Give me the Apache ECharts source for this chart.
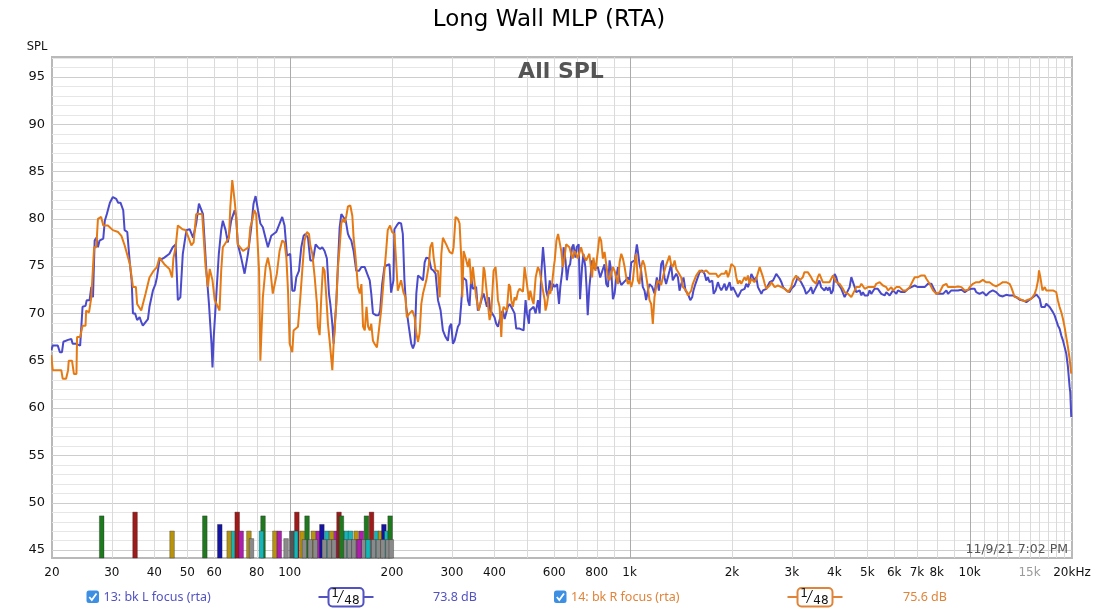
<!DOCTYPE html>
<html>
<head>
<meta charset="utf-8">
<script src="https://cdn.jsdelivr.net/npm/echarts@6/dist/echarts.min.js"></script>
<style>
html,body{margin:0;padding:0;background:#fff;}
#chart{width:1098px;height:613px;}
</style>
</head>
<body>
<div id="chart"></div>
<script>
// ---------------- DATA ----------------
const chartTitle = 'Long Wall MLP (RTA)';
const graphLabel = 'All SPL';
const yAxisName = 'SPL';
const timestamp = '11/9/21 7:02 PM';

const Y_MIN = 44.15, Y_MAX = 97.1;
const F_MIN = 20, F_MAX = 20000;

const yGridValues = [45,46,47,48,49,50,51,52,53,54,55,56,57,58,59,60,61,62,63,64,65,66,67,68,69,70,71,72,73,74,75,76,77,78,79,80,81,82,83,84,85,86,87,88,89,90,91,92,93,94,95,96,97];
const yTickLabels = [45,50,55,60,65,70,75,80,85,90,95];

const xGridFreqs = [30,40,50,60,70,80,90,100,200,300,400,500,600,700,800,900,1000,2000,3000,4000,5000,6000,7000,8000,9000,10000,11000,12000,13000,14000,15000,16000,17000,18000,19000];
const xDecadeFreqs = [100,1000,10000];
const xTickFreqs = [20,30,40,50,60,80,100,200,300,400,600,800,1000,2000,3000,4000,5000,6000,7000,8000,10000,15000,20000];
const xTickTexts = ['20','30','40','50','60','80','100','200','300','400','600','800','1k','2k','3k','4k','5k','6k','7k','8k','10k','15k','20kHz'];

const legendNames = ['13: bk L focus (rta)','14: bk R focus (rta)'];
const legendSmoothing = ['1','48'];
const legendLevels = ['73.8 dB','75.6 dB'];

// bars at the bottom: centre frequency, top level (dB), colour index
const barPalette = ['#1f7a1f','#a01a1a','#b8940e','#1414a0','#17b5b5','#b01eb0','#8a8a8a','#555555'];
const barFreqs = [28.0,35.1,45.1,56.3,62.3,66.4,68.4,70.1,72.0,75.9,77.2,83.5,82.6,90.5,93.2,97.6,
  105.0,104.2,108.8,112.5,117.4,121.3,124.4,128.7,132.8,137.3,139.7,142.6,147.0,151.0,156.9,162.5,168.2,174.1,180.3,185.0,189.3,193.0,197.5,
  101.5,110.5,115.0,119.0,126.5,131.0,135.0,145.0,150.0,154.5,159.5,165.0,171.0,176.5,182.5,188.0,194.5,199.0,
  160.0,170.0,142.0];
const barTops = [48.6,49.0,47.0,48.6,47.7,47.0,47.0,49.0,47.0,47.0,46.2,48.6,47.0,47.0,47.0,46.2,
  49.0,47.0,47.0,48.6,47.0,47.0,47.7,47.0,47.0,47.0,49.0,47.0,47.0,47.0,47.0,47.0,48.6,49.0,47.0,47.0,47.7,47.0,48.6,
  47.0,46.1,46.1,46.1,46.1,46.1,46.1,46.1,46.1,46.1,46.1,46.1,46.1,46.1,46.1,46.1,46.1,46.1,
  46.1,46.1,48.6];
const barColors = [0,1,2,0,3,2,4,1,5,2,6,0,4,2,5,6,
  1,4,2,0,2,5,3,4,2,5,1,4,4,4,2,5,0,1,4,2,3,4,0,
  7,6,6,6,6,6,6,6,6,6,6,6,6,6,6,6,6,6,
  5,4,0];

// series 13: bk L focus (blue)  [frequency Hz, SPL dB]
const blueCurve = [
[19.9,66.1],[20.1,66.6],[20.8,66.6],[21.1,65.9],[21.4,65.9],[21.6,67.0],[22.3,67.2],[22.8,67.3],[23.0,66.8],[23.5,66.8],[23.8,66.6],[24.2,66.6],[24.6,70.7],[25.1,70.8],[25.3,71.4],[25.8,71.4],[26.1,72.8],[26.4,71.7],[26.7,77.7],[27.0,78.0],[27.3,77.0],[27.6,77.7],[28.3,77.9],[28.6,79.8],[29.0,80.5],[29.6,81.7],[30.2,82.3],[30.9,82.1],[31.3,81.7],[31.8,81.7],[32.4,80.9],[32.7,78.8],[33.3,78.6],[33.9,75.2],[34.3,73.5],[34.6,70.0],[35.1,70.0],[35.6,69.3],[36.2,69.6],[36.6,69.1],[37.0,68.7],[37.4,68.9],[38.3,69.4],[38.7,70.7],[39.6,72.4],[40.3,73.1],[40.7,73.8],[41.4,75.6],[41.9,75.7],[42.8,75.9],[44.3,76.3],[45.3,77.0],[46.2,77.3],[46.9,71.4],[47.7,71.7],[48.5,76.3],[49.1,76.3],[49.7,78.8],[50.8,78.9],[52.0,78.0],[53.1,79.5],[54.1,81.6],[54.6,81.7],[55.6,80.5],[56.9,74.5],[57.9,71.0],[58.9,66.8],[59.3,64.3],[59.8,67.5],[60.8,71.7],[61.9,76.3],[62.9,78.8],[63.6,79.8],[64.8,78.8],[65.8,77.5],[67.3,79.8],[68.9,80.9],[69.6,80.2],[70.4,77.3],[72.0,75.9],[73.7,74.2],[75.4,76.3],[77.1,79.1],[78.3,81.6],[79.4,82.4],[80.7,80.9],[82.0,79.5],[83.4,79.1],[85.3,77.7],[86.3,77.0],[88.3,78.2],[91.3,78.6],[93.4,79.5],[95.1,80.2],[96.6,79.3],[98.2,76.1],
[100.4,76.3],[101.8,72.4],[103.4,72.4],[104.6,73.8],[106.5,74.5],[108.2,77.0],[109.9,78.2],[111.4,78.4],[113.2,78.0],[115.0,75.6],[117.1,75.6],[119.2,77.3],[121.1,77.0],[123.0,76.8],[124.7,77.0],[126.7,76.6],[128.7,75.8],[130.5,72.1],[131.7,71.0],[133.5,68.9],[134.7,66.8],[135.6,68.6],[137.1,71.0],[138.7,75.2],[140.3,79.1],[141.9,80.5],[143.5,80.3],[146.2,79.8],[148.4,78.4],[150.1,78.0],[151.8,77.7],[154.2,76.6],[157.0,74.5],[159.9,74.5],[162.6,74.9],[166.3,74.9],[169.0,74.2],[172.0,73.5],[173.8,72.1],[175.8,70.0],[179.7,69.8],[182.7,69.8],[184.6,70.3],[187.1,73.1],[190.0,74.9],[193.1,75.1],[196.6,75.2],[198.8,72.2],[202.0,73.5],[203.3,78.9],[206.6,79.3],[209.5,79.6],[212.7,79.5],[215.2,78.4],[217.6,73.5],[220.1,70.7],[224.1,68.6],[227.8,66.8],[230.5,66.3],[233.1,66.8],[235.8,72.1],[238.5,74.0],[242.4,73.8],[246.7,73.5],[249.5,75.4],[252.3,75.9],[256.9,75.8],[261.0,74.7],[265.2,74.5],[268.7,74.2],[273.1,71.4],[278.0,70.3],[282.3,68.2],[287.5,67.5],[292.0,67.1],[295.4,68.6],[298.7,68.9],[302.1,66.8],[305.5,67.1],[312.4,68.6],[316.1,68.9],[319.6,71.0],[323.3,73.8],[326.9,74.0],[330.6,73.5],[334.4,71.4],[338.1,70.8],[342.0,73.8],[345.9,72.6],[353.6,72.8],[357.7,70.3],[361.9,70.7],
[368.5,71.7],[371.9,72.1],[376.9,72.1],[380.3,70.7],[385.5,71.7],[389.0,70.3],[394.3,70.0],[400.5,69.6],[405.1,68.9],[409.8,68.6],[414.5,69.3],[419.2,70.0],[423.9,70.3],[428.8,69.4],[433.5,69.3],[438.3,70.7],[443.4,71.0],[448.5,70.7],[453.5,70.7],[458.7,70.0],[463.9,68.4],[469.3,68.2],[474.6,68.4],[480.0,68.2],[487.7,68.2],[494.2,71.4],[498.8,70.0],[505.6,68.9],[508.0,70.3],[513.7,70.3],[521.8,70.7],[529.1,70.0],[537.3,71.4],[543.5,70.0],[549.5,74.2],[556.1,77.0],[562.5,74.9],[568.3,72.4],[574.8,71.7],[582.0,73.5],[588.6,72.4],[595.3,73.1],[602.0,72.8],[611.7,73.1],[619.8,71.0],[625.3,72.8],[633.8,74.5],[639.2,77.0],[647.7,75.6],[653.7,73.5],[661.5,74.9],[668.3,75.2],[677.4,77.0],[683.4,77.3],[692.6,75.9],[698.8,77.0],[708.2,77.3],[714.6,71.5],[724.4,74.9],[731.2,76.3],[741.0,74.9],[747.8,72.4],[752.8,69.8],[761.3,72.8],[775.4,75.6],[787.7,74.7],[796.8,74.5],[806.3,74.9],[819.4,73.8],[831.0,74.5],[843.7,75.2],[853.4,73.1],[863.5,72.8],[872.9,75.6],[882.8,74.5],[892.9,71.5],[903.0,72.1],[913.2,73.8],[923.6,74.9],[934.1,73.5],[944.9,73.0],[955.4,73.1],[972.7,73.5],[988.6,73.8],[999.7,73.5],[1011,75.4],[1022,75.2],[1035,75.6],[1050,77.3],[1057,76.6],[1069,75.2],[1081,74.5],[1093,72.8],[1106,72.4],[1118,71.4],[1131,72.4],[1144,73.1],[1165,72.8],[1183,72.1],[1202,73.8],[1219,72.4],[1238,75.2],[1252,75.6],[1266,73.8],[1280,73.1],[1295,73.8],[1310,74.5],[1324,75.2],[1339,73.5],[1356,73.3],[1371,74.2],[1387,73.8],[1402,72.4],[1418,73.1],[1440,73.8],[1460,72.4],[1483,72.1],[1508,71.4],[1527,71.7],[1540,72.4],[1561,73.1],
[1606,74.36],[1635,74.54],[1661,74.18],[1680,73.48],[1699,73.83],[1718,73.30],[1750,73.48],[1766,72.07],[1790,72.43],[1818,73.30],[1839,72.78],[1860,72.43],[1881,72.78],[1902,73.13],[1924,72.43],[1946,72.60],[1968,73.30],[1991,72.43],[2013,72.78],[2036,72.95],[2059,72.07],[2082,71.72],[2106,72.07],[2130,72.43],[2154,72.25],[2178,72.60],[2203,73.13],[2228,72.78],[2254,73.30],[2280,74.18],[2305,74.36],[2331,73.48],[2357,73.83],[2384,72.78],[2412,72.43],[2440,72.07],[2467,72.43],[2496,72.25],[2523,72.60],[2552,72.78],[2581,73.30],[2610,73.13],[2641,73.48],[2671,73.83],[2699,74.18],[2730,74.01],[2764,73.66],[2795,73.30],[2827,72.78],[2859,72.95],[2892,72.43],[2925,72.60],[2956,72.25],[2988,72.60],[3021,72.43],[3055,72.95],[3088,73.13],[3123,73.83],[3158,74.01],[3194,73.30],[3231,73.13],[3267,72.60],[3304,72.07],[3341,71.90],[3379,72.43],[3417,72.78],[3456,72.07],[3495,72.43],[3535,72.78],[3575,73.13],[3615,73.48],[3657,72.78],[3699,72.95],[3741,72.43],[3784,72.78],[3829,72.43],[3870,72.78],[3915,72.07],[3962,72.43],[4007,74.18],[4053,73.83],[4100,73.13],[4145,73.30],[4192,72.60],[4240,72.78],[4288,71.72],[4337,72.07],[4386,71.90],[4436,72.78],[4487,73.83],[4537,74.01],[4590,72.78],[4640,72.25],[4694,72.07],[4747,72.43],[4803,71.90],[4853,72.25],[4914,71.90],[4963,71.72],[5019,71.90],[5078,72.43],[5135,72.07],[5192,72.25],[5252,72.60],[5311,72.43],[5370,72.60],
[5436,72.43],[5498,72.07],[5560,72.25],[5623,71.90],[5687,72.25],[5752,72.07],[5817,71.90],[5883,72.07],[5950,72.43],[6018,72.25],[6085,72.07],[6155,72.43],[6225,72.60],[6295,72.25],[6367,72.43],[6438,72.25],[6512,72.43],[6587,72.60],[6662,72.43],[6738,72.78],[6814,72.60],[6892,72.95],[6968,73.13],[7046,72.78],[7127,72.85],[7208,72.78],[7290,72.95],[7373,72.78],[7457,72.95],[7542,73.13],[7628,72.95],[7716,73.13],[7803,72.78],[7891,72.43],[7979,72.07],[8070,71.90],[8165,72.07],[8257,72.25],[8351,72.07],[8447,72.25],[8540,72.43],[8637,72.07],[8736,72.25],[8833,72.43],[8939,72.25],[9041,72.43],[9135,72.25],[9239,72.43],[9355,72.36],[9461,72.50],[9568,72.43],[9676,72.25],[9790,72.43],[9899,72.50],[10004,72.60],[10115,72.60],[10226,72.43],[10339,72.60],[10453,72.25],[10572,72.14],[10690,72.07],[10812,72.07],[10935,72.25],[11057,72.07],[11182,71.90],[11307,72.07],[11437,72.25],[11567,72.43],[11698,72.43],[11831,72.25],[11965,72.25],[12101,72.07],[12236,71.90],[12378,71.72],[12519,71.79],[12661,71.90],[12807,71.97],[12954,71.90],[13101,71.90],[13250,71.97],[13410,71.90],[13562,71.79],[13717,71.72],[13879,71.65],[14030,71.44],[14189,71.37],[14351,71.37],[14514,71.30],[14679,71.20],[14846,71.37],[15015,71.44],[15188,71.55],[15357,71.72],[15536,71.90],[15710,72.00],[15889,71.90],[16069,71.55],[16257,70.67],[16428,70.49],[16634,70.67],[16797,71.02],[16987,70.84],[17189,70.67],[17382,70.49],[17575,70.14],[17776,69.79],[17977,69.26],[18178,68.73],[18390,68.38],[18597,67.68],[18809,67.15],[19023,66.45],[19237,65.75],[19456,64.34],[19678,62.23],[19765,61.70],[19901,59.06]
];

// series 14: bk R focus (orange)  [frequency Hz, SPL dB]
const orangeCurve = [
[19.9,65.6],[20.1,64.0],[21.0,64.0],[21.3,64.0],[21.5,63.1],[22.0,63.1],[22.3,64.0],[22.4,65.0],[22.9,65.0],[23.2,63.6],[23.6,63.6],[23.7,67.5],[24.2,67.5],[24.6,68.7],[25.1,68.7],[25.2,70.3],[25.7,70.1],[26.1,71.7],[26.4,71.7],[26.6,77.0],[27.0,77.0],[27.3,80.0],[27.9,80.2],[28.3,79.3],[29.2,79.3],[30.2,78.8],[31.3,78.6],[32.0,78.2],[32.7,77.2],[33.9,75.2],[34.6,72.8],[35.3,72.8],[35.6,71.0],[36.6,70.3],[37.0,70.1],[37.7,72.1],[38.7,73.8],[39.8,74.5],[40.7,74.9],[41.4,75.9],[42.8,75.2],[44.3,74.7],[45.1,73.8],[45.5,75.8],[46.2,77.0],[46.9,79.3],[48.4,78.9],[49.4,78.8],[50.2,78.2],[51.4,77.2],[52.2,77.5],[53.1,80.5],[55.3,80.5],[56.6,74.9],[57.5,72.8],[58.2,74.7],[59.3,73.5],[60.2,71.4],[61.5,70.7],[62.2,70.3],[62.9,74.5],[63.6,77.0],[66.3,78.0],[66.9,81.2],[67.8,84.1],[68.4,84.0],[68.9,81.9],[69.6,80.2],[70.4,77.3],[72.9,76.6],[75.8,77.0],[76.6,79.1],[77.6,79.8],[78.7,80.9],[79.7,80.5],[81.3,74.5],[82.0,65.0],[82.7,65.0],[83.4,71.7],[85.0,74.9],[86.3,75.9],[87.8,74.5],[89.2,72.1],[90.2,71.9],[91.7,74.2],[93.4,76.6],[95.1,77.7],[96.6,77.5],[97.8,75.9],[98.9,72.4],
[100.0,66.8],[101.8,65.9],[102.7,68.2],[104.1,68.0],[105.8,68.6],[107.5,71.7],[108.9,74.5],[110.6,77.7],[112.4,78.6],[114.0,78.4],[115.0,77.2],[116.6,76.3],[118.5,73.8],[120.3,71.0],[121.1,68.6],[122.5,67.7],[123.9,71.7],[125.3,74.9],[126.7,74.5],[128.2,71.7],[129.6,68.9],[131.1,67.1],[132.6,67.1],[133.5,64.0],[134.7,66.8],[135.6,68.2],[137.1,71.0],[138.7,74.9],[140.3,77.0],[141.9,79.5],[143.5,80.0],[145.2,79.6],[146.8,80.3],[148.4,81.3],[150.8,81.4],[152.9,80.3],[154.2,78.0],[156.3,75.9],[158.8,72.8],[160.8,72.1],[162.6,73.1],[164.4,68.6],[166.3,68.2],[168.3,70.7],[170.1,68.6],[172.0,68.2],[173.8,68.9],[175.8,67.1],[177.7,66.8],[180.6,66.4],[182.7,66.6],[185.8,70.3],[187.9,72.4],[190.0,74.5],[192.2,76.6],[194.3,78.8],[197.4,79.3],[200.1,78.6],[203.3,78.4],[205.6,75.6],[208.0,72.4],[210.3,72.2],[212.7,73.5],[216.2,72.2],[219.2,71.7],[221.1,69.6],[225.2,70.0],[229.6,70.3],[233.1,69.6],[235.8,67.9],[238.5,67.0],[241.1,67.9],[243.9,71.0],[246.7,72.1],[249.5,72.2],[252.3,73.5],[256.9,75.2],[259.2,77.0],[262.7,77.5],[265.2,75.9],[268.7,74.5],[273.1,74.5],[276.2,71.7],[279.4,76.3],[282.3,78.0],[285.9,78.2],[288.7,77.3],[292.0,77.5],[295.4,76.5],[300.8,76.3],[303.5,77.0],[307.6,80.2],[312.4,80.0],[316.1,79.5],[319.6,75.9],[321.9,71.7],[324.8,76.6],[329.1,75.9],[334.4,74.9],[338.1,75.8],[342.0,73.1],[345.9,74.9],[353.6,71.7],[360.1,70.3],
[368.5,72.1],[371.9,74.9],[374.4,74.5],[378.5,72.8],[382.9,71.0],[387.3,69.3],[391.6,70.0],[397.9,74.5],[403.3,74.9],[407.0,73.1],[409.8,71.4],[414.5,70.7],[417.3,68.9],[419.2,67.5],[422.0,70.0],[425.9,70.7],[431.5,70.7],[435.4,70.3],[441.4,73.1],[445.4,72.8],[448.5,71.4],[453.5,70.7],[458.7,71.7],[463.9,71.4],[469.3,72.3],[474.6,72.6],[480.0,72.6],[485.5,72.3],[490.9,74.9],[496.4,75.1],[498.8,73.1],[505.6,71.4],[510.3,72.4],[517.2,71.4],[521.8,71.0],[529.1,73.8],[537.3,74.9],[543.5,74.5],[549.5,73.5],[556.1,72.4],[562.5,71.4],[565.7,70.3],[571.5,71.0],[578.8,72.4],[584.3,72.1],[592.0,73.3],[598.3,74.9],[602.0,75.6],[609.1,77.7],[615.9,78.4],[622.4,78.2],[629.3,76.6],[636.2,74.9],[643.3,75.9],[650.4,77.3],[657.7,77.5],[665.1,77.0],[672.7,76.3],[680.3,75.8],[687.9,76.6],[695.7,76.3],[703.5,75.8],[711.6,75.8],[719.7,77.0],[727.8,76.3],[736.1,76.3],[744.4,75.6],[752.8,75.6],[761.3,76.3],[775.4,73.8],[782.6,75.9],[793.4,74.5],[806.3,76.6],[815.1,78.1],[824.5,77.7],[834.3,75.8],[843.7,76.5],[853.4,76.3],[863.5,73.8],[872.9,73.5],[882.8,74.2],[892.9,74.9],[903.0,74.5],[913.2,73.8],[923.6,73.1],[934.1,75.4],[944.9,76.3],[955.4,75.8],[966.6,74.9],[977.1,73.8],[988.6,73.1],[999.7,73.5],[1011,72.8],[1022,73.5],[1035,75.4],[1045,76.3],[1057,73.5],[1069,73.1],[1081,74.9],[1093,75.6],[1106,75.1],[1118,74.0],[1131,72.8],[1144,71.4],[1157,71.0],[1170,68.9],[1183,71.7],[1197,72.8],[1210,73.5],[1224,73.3],[1238,73.0],[1252,73.8],[1266,74.5],[1280,75.1],[1295,75.6],[1310,76.1],[1324,75.2],[1339,74.9],[1356,75.6],[1371,74.7],[1387,74.4],[1402,74.5],[1418,73.8],[1434,72.8],[1450,72.6],[1466,72.4],[1483,71.9],[1500,71.7],[1517,72.4],[1533,73.1],[1551,73.3],[1569,74.0],
[1606,74.54],[1624,74.71],[1643,74.36],[1661,74.18],[1680,74.54],[1699,74.36],[1718,74.18],[1738,74.36],[1758,74.18],[1778,74.01],[1798,74.18],[1818,73.83],[1839,74.01],[1860,74.18],[1881,74.36],[1902,74.18],[1924,74.54],[1946,73.83],[1968,74.36],[1991,75.24],[2013,75.24],[2036,74.89],[2059,73.83],[2082,73.13],[2106,73.48],[2130,73.13],[2154,73.30],[2178,73.83],[2203,73.48],[2228,74.01],[2254,73.13],[2280,73.66],[2305,73.83],[2331,73.30],[2357,73.66],[2384,73.48],[2412,74.89],[2440,75.06],[2467,73.83],[2496,73.13],[2523,72.60],[2552,72.43],[2581,72.95],[2610,73.30],[2641,73.13],[2671,72.78],[2699,72.60],[2730,72.95],[2764,73.13],[2795,72.78],[2827,72.95],[2859,72.60],[2892,72.43],[2925,72.25],[2956,72.43],[2988,72.78],[3021,73.48],[3055,73.66],[3088,74.01],[3123,73.83],[3158,73.48],[3194,73.66],[3231,73.83],[3267,74.36],[3304,74.54],[3341,74.36],[3379,74.18],[3417,73.83],[3456,73.48],[3495,73.66],[3535,73.13],[3575,73.83],[3615,74.18],[3657,74.01],[3699,73.30],[3741,73.13],[3784,73.30],[3829,73.13],[3870,73.30],[3915,73.48],[3962,74.01],[4007,73.83],[4053,73.30],[4100,73.48],[4145,73.13],[4192,72.95],[4240,72.60],[4288,72.25],[4337,72.43],[4386,72.07],[4436,71.90],[4487,71.72],[4537,71.90],[4590,72.43],[4640,72.78],[4694,72.60],[4747,72.78],[4803,73.13],[4853,72.95],[4914,72.60],[4963,72.43],[5019,72.78],[5078,72.95],[5135,72.78],[5192,72.60],[5252,72.78],[5311,73.13],[5370,73.30],
[5436,73.30],[5498,73.13],[5560,72.95],[5623,73.13],[5687,72.78],[5752,72.43],[5817,72.60],[5883,72.78],[5950,72.43],[6018,72.60],[6085,72.78],[6155,72.60],[6225,72.78],[6295,72.60],[6367,72.43],[6438,72.25],[6512,72.43],[6587,72.60],[6662,72.78],[6738,72.95],[6814,73.48],[6892,73.83],[6968,74.01],[7046,73.83],[7127,73.66],[7208,74.01],[7290,74.18],[7373,74.01],[7457,73.66],[7542,73.48],[7628,73.13],[7716,72.78],[7803,72.43],[7891,72.25],[7979,72.07],[8070,72.07],[8165,72.25],[8257,72.60],[8351,72.95],[8447,72.78],[8540,73.13],[8637,72.78],[8736,72.95],[8833,72.78],[8939,72.95],[9041,72.78],[9135,72.95],[9239,72.85],[9355,72.95],[9461,72.78],[9568,72.60],[9676,72.43],[9790,72.25],[9899,72.50],[10004,72.78],[10115,72.95],[10226,73.13],[10339,73.20],[10453,73.30],[10572,73.13],[10690,73.30],[10812,73.48],[10935,73.55],[11057,73.48],[11182,73.30],[11307,73.48],[11437,73.30],[11567,73.13],[11698,73.02],[11831,72.95],[11965,72.85],[12101,72.95],[12236,73.06],[12378,73.20],[12519,73.30],[12661,73.23],[12807,73.30],[12954,73.48],[13101,73.13],[13250,72.78],[13410,72.25],[13562,71.72],[13717,71.79],[13879,71.65],[14030,71.55],[14189,71.44],[14351,71.37],[14514,71.30],[14679,71.44],[14846,71.44],[15015,71.37],[15188,71.55],[15357,71.72],[15536,72.07],[15710,72.60],[15889,73.48],[15997,74.54],[16069,74.61],[16142,73.83],[16257,73.13],[16368,72.43],[16428,72.60],[16634,72.78],[16797,72.43],[16987,72.50],[17189,72.43],[17382,72.50],[17575,72.43],[17776,72.53],[17977,72.25],[18178,71.37],[18390,70.67],[18597,70.14],[18809,69.44],[19023,68.56],[19237,67.50],[19456,66.45],[19678,65.22],[19765,65.04],[19901,63.64]
];

// ---------------- STYLE ----------------
const BLUE = '#4a4acb';
const ORANGE = '#e57a14';
const FONT = 'DejaVu Sans';

const chart = echarts.init(document.getElementById('chart'), null, {renderer: 'canvas'});

function xGridItem(params, api) {
  const f = api.value(0);
  const p1 = api.coord([f, Y_MAX]);
  const p2 = api.coord([f, Y_MIN]);
  const x = Math.round(p1[0]) + 0.5;
  const dec = xDecadeFreqs.indexOf(f) >= 0;
  return {type: 'line', shape: {x1: x, y1: p1[1], x2: x, y2: p2[1]},
    style: {stroke: dec ? '#ababab' : '#dadada', lineWidth: 1}};
}
function yGridItem(params, api) {
  const v = api.value(1);
  const p1 = api.coord([F_MIN, v]);
  const p2 = api.coord([F_MAX, v]);
  const y = Math.round(p1[1]) + 0.5;
  const major = v % 5 === 0;
  return {type: 'line', shape: {x1: p1[0], y1: y, x2: p2[0], y2: y},
    style: {stroke: major ? '#cdcdcd' : '#e6e6e6', lineWidth: 1}};
}
function xLabelItem(params, api) {
  const f = api.value(0);
  const p = api.coord([f, Y_MIN]);
  const txt = xTickTexts[params.dataIndex];
  return {type: 'text', x: p[0], y: p[1] + 15,
    style: {text: txt, fill: txt === '15k' ? '#9a9a9a' : '#111', font: '12px "' + FONT + '"',
      align: 'center', verticalAlign: 'middle', textAlign: 'center', textVerticalAlign: 'middle'}};
}
function yLabelItem(params, api) {
  const v = api.value(1);
  const p = api.coord([F_MIN, v]);
  return {type: 'text', x: p[0] - 7, y: p[1],
    style: {text: String(v), fill: '#111', font: '13px "' + FONT + '"',
      align: 'right', verticalAlign: 'middle', textAlign: 'right', textVerticalAlign: 'middle'}};
}
const HALF_W = Math.pow(10, 2.3 / 340);
function barItem(params, api) {
  const f = api.value(0), top = api.value(1), c = api.value(2);
  const a = api.coord([f / HALF_W, top]);
  const b = api.coord([f * HALF_W, Y_MIN]);
  return {type: 'rect', shape: {x: a[0], y: a[1], width: b[0] - a[0], height: b[1] - a[1]},
    style: {fill: barPalette[c], stroke: 'rgba(30,30,30,0.55)', lineWidth: 0.6}};
}

function legendGroup(i, color, x0, boxX) {
  const els = [];
  const cy = 597;
  els.push({type: 'rect', shape: {x: x0, y: cy - 6.5, width: 12.5, height: 12.5, r: 2.5}, style: {fill: '#3c8fe2'}});
  els.push({type: 'polyline', shape: {points: [[x0 + 2.8, cy], [x0 + 5.3, cy + 3], [x0 + 10, cy - 3.6]]},
    style: {stroke: '#fff', lineWidth: 1.8, fill: null}});
  els.push({type: 'text', x: x0 + 17, y: cy, style: {text: legendNames[i], fill: color, font: '12.5px "Noto Sans"', align: 'left', verticalAlign: 'middle'}});
  els.push({type: 'line', shape: {x1: boxX - 10, y1: cy, x2: boxX + 45, y2: cy}, style: {stroke: color, lineWidth: 2}});
  els.push({type: 'rect', shape: {x: boxX, y: cy - 9, width: 35, height: 18.5, r: 4}, style: {fill: '#fff', stroke: color, lineWidth: 2}});
  els.push({type: 'text', x: boxX + 6.5, y: cy - 3.5, style: {text: legendSmoothing[0], fill: '#111', font: '12px "' + FONT + '"', align: 'center', verticalAlign: 'middle'}});
  els.push({type: 'line', shape: {x1: boxX + 9, y1: cy + 6, x2: boxX + 15, y2: cy - 7}, style: {stroke: '#111', lineWidth: 1}});
  els.push({type: 'text', x: boxX + 23.5, y: cy + 3.5, style: {text: legendSmoothing[1], fill: '#111', font: '12px "' + FONT + '"', align: 'center', verticalAlign: 'middle'}});
  els.push({type: 'text', x: (i === 0 ? 433 : 903), y: cy, style: {text: legendLevels[i], fill: color, font: '12.5px "Noto Sans"', align: 'left', verticalAlign: 'middle'}});
  return els;
}

const option = {
  animation: false,
  backgroundColor: '#fff',
  grid: {left: 52, right: 26, top: 57, bottom: 55, show: true, backgroundColor: '#fff', borderColor: '#b9b9b9', borderWidth: 2},
  xAxis: {type: 'log', logBase: 10, min: F_MIN, max: F_MAX,
    axisLine: {show: false}, axisTick: {show: false}, axisLabel: {show: false}, splitLine: {show: false}},
  yAxis: {type: 'value', min: Y_MIN, max: Y_MAX,
    axisLine: {show: false}, axisTick: {show: false}, axisLabel: {show: false}, splitLine: {show: false}},
  graphic: [
    {type: 'text', x: 549, y: 20, z: 100, style: {text: chartTitle, fill: '#000', font: '23px "' + FONT + '"', align: 'center', verticalAlign: 'middle'}},
    {type: 'text', x: 561, y: 72, z: 100, style: {text: graphLabel, fill: '#555', font: 'bold 22px "' + FONT + '"', align: 'center', verticalAlign: 'middle'}},
    {type: 'text', x: 37, y: 47, z: 100, style: {text: yAxisName, fill: '#111', font: '11.5px "' + FONT + '"', align: 'center', verticalAlign: 'middle'}},
    {type: 'text', x: 1068, y: 550, z: 100, style: {text: timestamp, fill: '#555', font: '12.5px "' + FONT + '"', align: 'right', verticalAlign: 'middle'}},
    ...legendGroup(0, '#5252c2', 86.5, 328.5),
    ...legendGroup(1, '#e0843a', 554, 797.5)
  ].map(e => Object.assign({z: 100}, e)),
  series: [
    {type: 'custom', name: 'ygrid', renderItem: yGridItem, data: yGridValues.map(v => [F_MIN, v]), z: 1, silent: true},
    {type: 'custom', name: 'xgrid', renderItem: xGridItem, data: xGridFreqs.map(f => [f, Y_MIN]), z: 1, silent: true},
    {type: 'custom', name: 'xlabels', renderItem: xLabelItem, data: xTickFreqs.map(f => [f, Y_MIN]), clip: false, z: 1, silent: true},
    {type: 'custom', name: 'ylabels', renderItem: yLabelItem, data: yTickLabels.map(v => [F_MIN, v]), clip: false, z: 1, silent: true},
    {type: 'custom', name: 'bars', renderItem: barItem, data: barFreqs.map((f, i) => [f, barTops[i], barColors[i]]), z: 2, silent: true},
    {type: 'line', name: legendNames[0], data: blueCurve, showSymbol: false, symbol: 'none', z: 3,
      lineStyle: {color: BLUE, width: 2}, itemStyle: {color: BLUE}},
    {type: 'line', name: legendNames[1], data: orangeCurve, showSymbol: false, symbol: 'none', z: 4,
      lineStyle: {color: ORANGE, width: 2}, itemStyle: {color: ORANGE}}
  ]
};
chart.setOption(option);
</script>
</body>
</html>
